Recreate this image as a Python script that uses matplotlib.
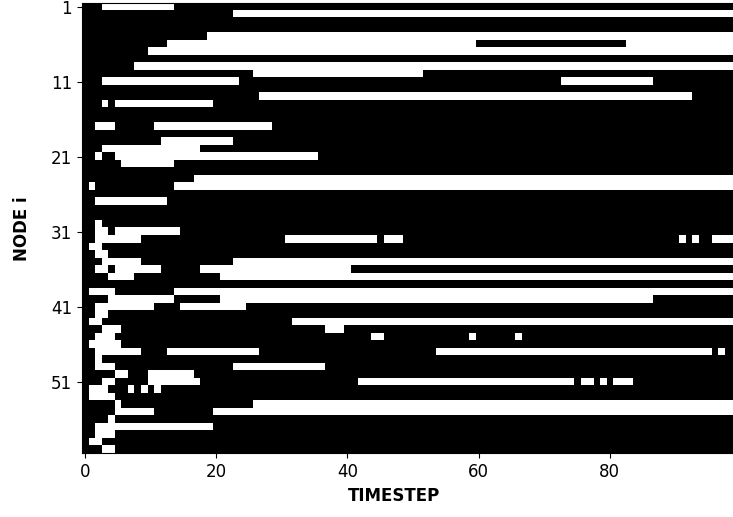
import numpy as np
import matplotlib.pyplot as plt

n_nodes = 60
n_steps = 100

# white (state 1) runs for every node, as [start, stop) timesteps
white_runs = [
    [(3, 14)],                              # 1
    [(23, 100)],
    [],
    [],
    [(19, 100)],
    [(13, 60), (83, 100)],
    [(10, 100)],
    [],
    [(8, 100)],
    [(26, 52)],
    [(3, 24), (73, 87)],                    # 11
    [],
    [(27, 93)],
    [(3, 4), (5, 20)],
    [],
    [],
    [(2, 5), (11, 29)],
    [],
    [(12, 23)],
    [(3, 18)],
    [(2, 3), (5, 36)],                      # 21
    [(6, 14)],
    [],
    [(17, 100)],
    [(1, 2), (14, 100)],
    [],
    [(2, 13)],
    [],
    [],
    [(2, 3)],
    [(2, 4), (5, 15)],                      # 31
    [(2, 9), (31, 45), (46, 49), (91, 92), (93, 94), (96, 100)],
    [(1, 3)],
    [(2, 4)],
    [(3, 9), (23, 100)],
    [(2, 4), (5, 12), (18, 41)],
    [(4, 8), (21, 100)],
    [],
    [(1, 5), (14, 100)],
    [(4, 14), (21, 87)],
    [(2, 11), (15, 25)],                    # 41
    [(2, 4)],
    [(1, 3), (32, 100)],
    [(3, 6), (37, 40)],
    [(2, 5), (44, 46), (59, 60), (66, 67)],
    [(1, 6)],
    [(2, 9), (13, 27), (54, 96), (97, 98)],
    [(2, 3)],
    [(2, 5), (23, 37)],
    [(5, 7), (10, 17)],
    [(3, 5), (10, 18), (42, 75), (76, 78), (79, 80), (81, 84)],  # 51
    [(1, 4), (7, 8), (9, 10), (11, 12)],
    [(1, 5)],
    [(5, 6), (26, 100)],
    [(5, 11), (20, 100)],
    [(4, 5)],
    [(2, 20)],
    [(2, 5)],
    [(1, 3)],
    [(3, 5)],
]

ytick_pos = [0, 10, 20, 30, 40, 50]
ytick_labels = ['1', '11', '21', '31', '41', '51']
xtick_pos = [0, 20, 40, 60, 80]

states = np.zeros((n_nodes, n_steps))
for i, runs in enumerate(white_runs):
    for a, b in runs:
        states[i, a:b] = 1

fig = plt.figure(figsize=(7.33, 5.17), dpi=100)
ax = fig.add_axes([81.7 / 733, 63.7 / 517, 656 / 733, 450 / 517])
ax.imshow(states, cmap='gray', vmin=0, vmax=1, aspect='auto', interpolation='nearest')
ax.set_yticks(ytick_pos)
ax.set_yticklabels(ytick_labels)
ax.set_xticks(xtick_pos)
ax.tick_params(labelsize=12)
# the label sits a bit left of the axes centre in the original
ax.set_xlabel('TIMESTEP', fontsize=12, fontweight='bold', x=0.476)
ax.set_ylabel('NODE i', fontsize=12, fontweight='bold', labelpad=14)
fig.savefig('out.png')
